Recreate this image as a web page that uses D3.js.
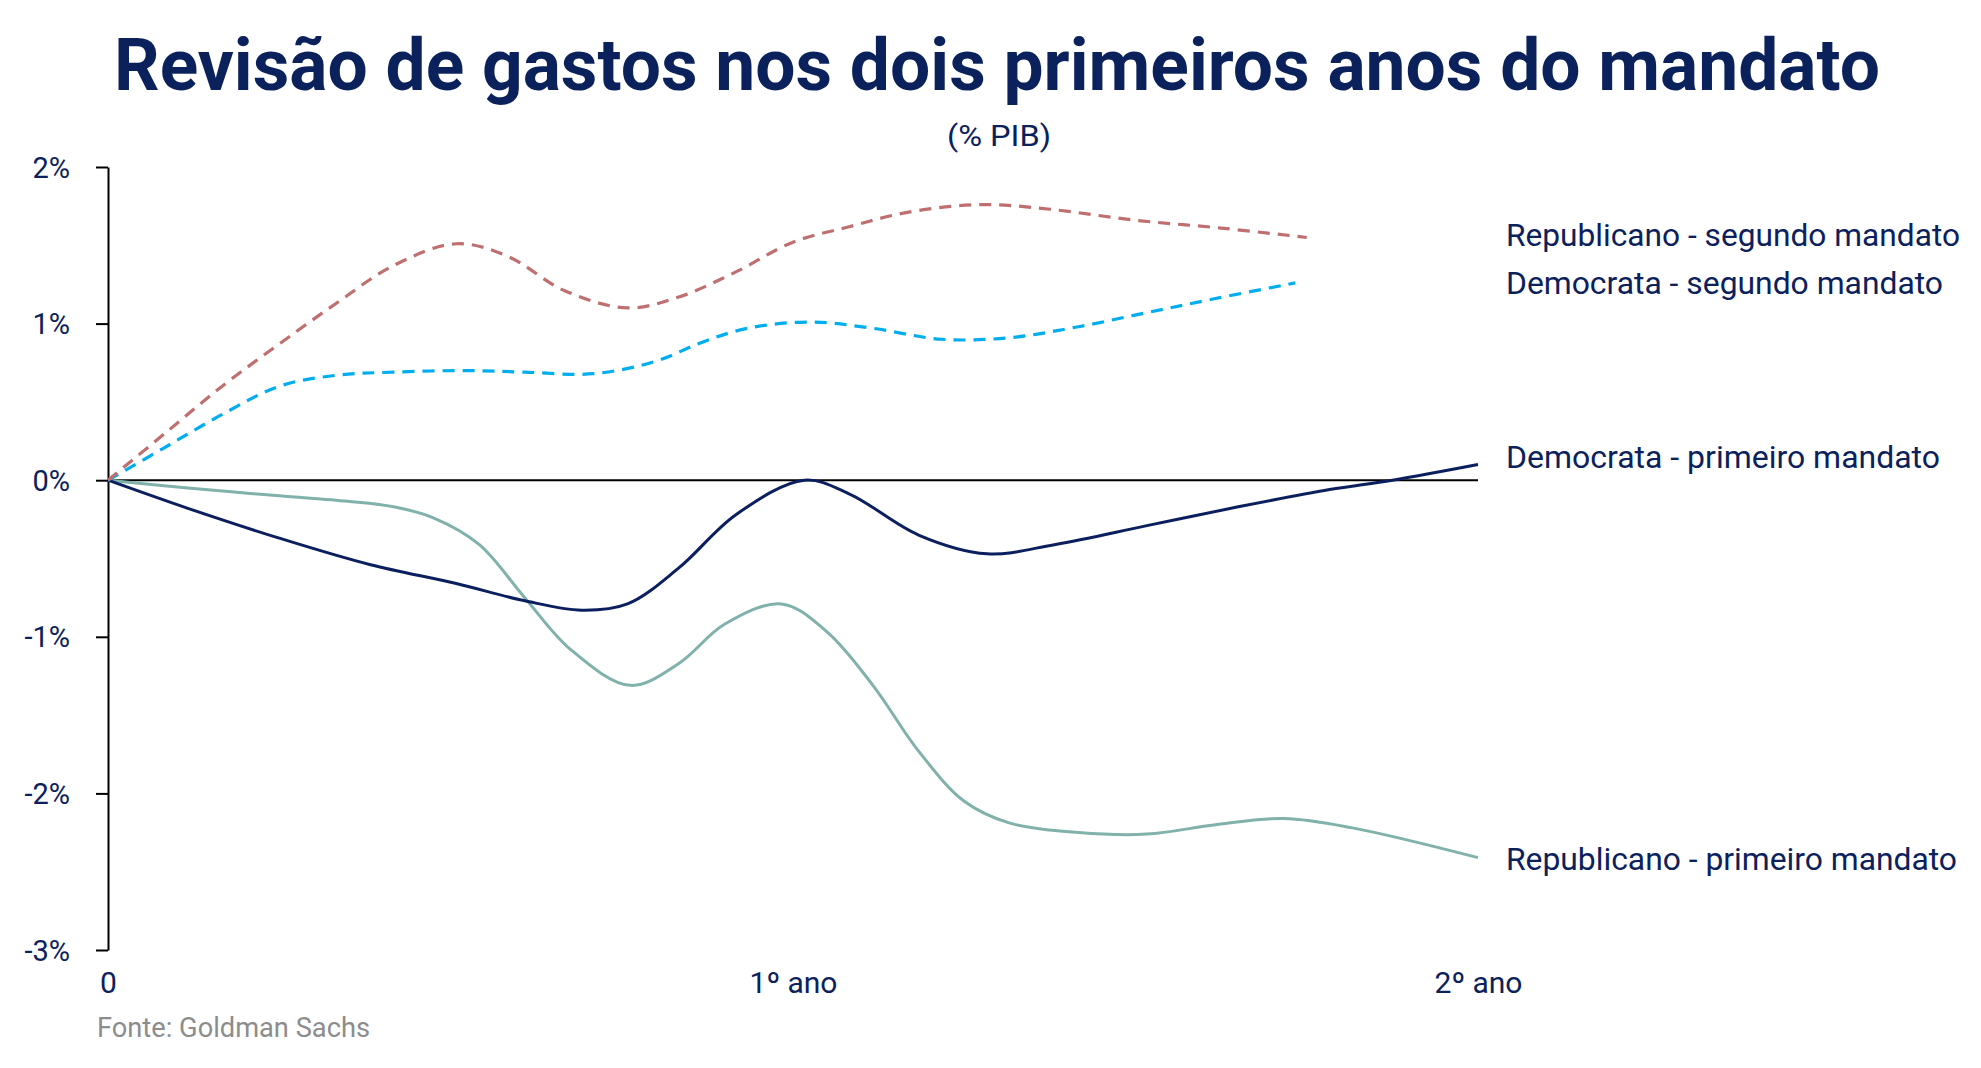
<!DOCTYPE html>
<html>
<head>
<meta charset="utf-8">
<script src="https://cdn.jsdelivr.net/npm/d3@7"></script>
<style>
  html, body { margin: 0; padding: 0; background: #fff; }
  svg { display: block; }
  text { font-family: Roboto, "Noto Sans", sans-serif; }
</style>
</head>
<body>
<svg id="chart" width="1981" height="1068"></svg>
<script>
// ---- Data (x in months since start of term, values in % of GDP) ----
const xTickValues = [0, 12, 24];
const xTickLabels = ["0", "1º ano", "2º ano"];
const yTickValues = [-3, -2, -1, 0, 1, 2];

const repSegX = [0, 1, 2, 3, 4, 5, 6.1, 7, 8, 9.1, 10, 11, 12, 13, 14, 15.3, 16.5, 18, 19.5, 21];
const repSegY = [0, 0.30, 0.60, 0.87, 1.13, 1.37, 1.51, 1.43, 1.21, 1.10, 1.17, 1.33, 1.52, 1.62, 1.71, 1.76, 1.73, 1.66, 1.61, 1.55];

const demSegX = [0, 1, 2, 3, 4, 5, 6.3, 7.3, 8.5, 9.6, 10.4, 11.2, 12.3, 13.4, 14.6, 15.8, 17, 18.2, 19.4, 20.8];
const demSegY = [0, 0.21, 0.42, 0.60, 0.67, 0.69, 0.70, 0.69, 0.68, 0.76, 0.88, 0.97, 1.01, 0.97, 0.90, 0.91, 0.98, 1.07, 1.16, 1.26];

const demPriX = [0, 1.4, 3, 4.6, 6.1, 7.3, 8.3, 9.1, 10, 11, 12.2, 13, 14.2, 15.4, 16.6, 18.2, 19.8, 21.4, 22.5, 24];
const demPriY = [0, -0.18, -0.37, -0.54, -0.66, -0.77, -0.83, -0.79, -0.56, -0.22, 0.0, -0.09, -0.35, -0.47, -0.41, -0.29, -0.17, -0.06, 0.0, 0.10];

const repPriX = [0, 1.4, 3, 4.2, 5, 5.7, 6.5, 7.3, 8.1, 9.15, 10, 10.8, 11.8, 12.6, 13.4, 14.2, 15, 15.8, 17, 18.2, 19.4, 20.6, 21.8, 24];
const repPriY = [0, -0.05, -0.10, -0.135, -0.17, -0.24, -0.41, -0.75, -1.08, -1.31, -1.17, -0.92, -0.79, -0.97, -1.31, -1.73, -2.05, -2.19, -2.25, -2.26, -2.20, -2.16, -2.22, -2.41];

const seriesNames = ["Republicano - segundo mandato", "Democrata - segundo mandato", "Democrata - primeiro mandato", "Republicano - primeiro mandato"];

// ---- Layout ----
const navy = "#0b215c";
const svg = d3.select("#chart");
const x = d3.scaleLinear().domain([0, 24]).range([108, 1478]);
const y = d3.scaleLinear().domain([-3, 2]).range([950, 167]);

// Title
svg.append("text")
  .attr("x", 997).attr("y", 90)
  .attr("text-anchor", "middle")
  .attr("font-size", 72).attr("font-weight", 700)
  .attr("fill", navy)
  .attr("textLength", 1766).attr("lengthAdjust", "spacingAndGlyphs")
  .text("Revisão de gastos nos dois primeiros anos do mandato");

svg.append("text")
  .attr("x", 999).attr("y", 136)
  .attr("text-anchor", "middle").attr("dominant-baseline", "central")
  .attr("font-size", 29).attr("fill", navy)
  .attr("textLength", 104).attr("lengthAdjust", "spacingAndGlyphs")
  .text("(% PIB)");

// Y axis
const yAxis = svg.append("g")
  .attr("transform", `translate(${x(0)},0)`)
  .call(d3.axisLeft(y).tickValues(yTickValues).tickSize(12).tickSizeOuter(0).tickPadding(26)
    .tickFormat(d => d + "%"));
yAxis.select(".domain").attr("stroke", "#000").attr("stroke-width", 2);
yAxis.selectAll(".tick line").attr("stroke", "#000").attr("stroke-width", 2);
yAxis.selectAll(".tick text")
  .attr("font-size", 29).attr("fill", navy)
  .attr("font-family", "Roboto, sans-serif")
  .attr("dy", "0.35em");

// X axis labels
const xAxis = svg.append("g")
  .attr("transform", `translate(0,${y(-3)})`)
  .call(d3.axisBottom(x).tickValues(xTickValues).tickSize(0).tickPadding(22)
    .tickFormat((d, i) => xTickLabels[i]));
xAxis.select(".domain").remove();
xAxis.selectAll(".tick text")
  .attr("font-size", 30).attr("fill", navy)
  .attr("font-family", "Roboto, sans-serif");

// Zero line
svg.append("line")
  .attr("x1", x(0)).attr("x2", x(24))
  .attr("y1", y(0)).attr("y2", y(0))
  .attr("stroke", "#000").attr("stroke-width", 2);

// Lines
const line = d3.line().x(d => x(d[0])).y(d => y(d[1])).curve(d3.curveCatmullRom.alpha(0.5));
const zip = (a, b) => a.map((v, i) => [v, b[i]]);

const series = [
  { xs: repPriX, ys: repPriY, color: "#80b1ab", dash: null, w: 3 },
  { xs: demPriX, ys: demPriY, color: "#0b1f5e", dash: null, w: 3 },
  { xs: demSegX, ys: demSegY, color: "#00aeef", dash: "12,8", w: 3.2 },
  { xs: repSegX, ys: repSegY, color: "#bf6f70", dash: "12,8", w: 3.2 }
];
series.forEach(s => {
  svg.append("path")
    .datum(zip(s.xs, s.ys))
    .attr("d", line)
    .attr("fill", "none")
    .attr("stroke", s.color)
    .attr("stroke-width", s.w)
    .attr("stroke-dasharray", s.dash)
    .attr("stroke-linejoin", "round");
});

// Series labels
const labelY = [235, 283, 457, 859];
const labelW = [454, 437, 434, 451];
seriesNames.forEach((name, i) => {
  svg.append("text")
    .attr("x", 1506).attr("y", labelY[i])
    .attr("dominant-baseline", "central")
    .attr("font-size", 31).attr("fill", navy)
    .attr("textLength", labelW[i]).attr("lengthAdjust", "spacingAndGlyphs")
    .text(name);
});

// Source
svg.append("text")
  .attr("x", 97).attr("y", 1037)
  .attr("font-size", 28).attr("fill", "#8c8c8c")
  .attr("textLength", 273).attr("lengthAdjust", "spacingAndGlyphs")
  .text("Fonte: Goldman Sachs");
</script>
</body>
</html>
